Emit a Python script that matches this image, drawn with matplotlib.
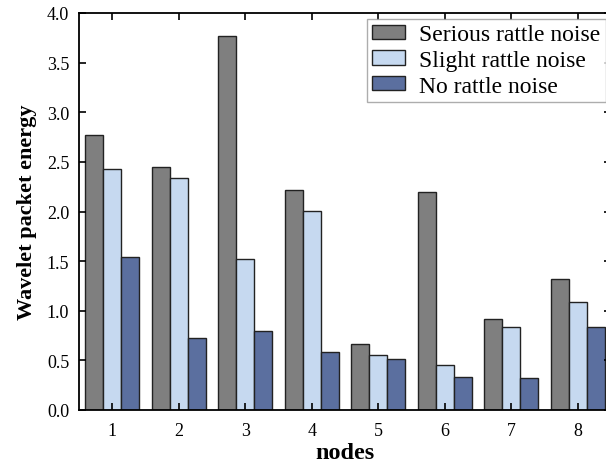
import numpy as np
import matplotlib
matplotlib.use('Agg')
import matplotlib.pyplot as plt

nodes = [1, 2, 3, 4, 5, 6, 7, 8]
serious = [2.77, 2.45, 3.77, 2.22, 0.66, 2.20, 0.92, 1.32]
slight = [2.43, 2.34, 1.52, 2.01, 0.55, 0.45, 0.84, 1.09]
no_rattle = [1.54, 0.73, 0.80, 0.58, 0.51, 0.33, 0.32, 0.84]

C_SER = '#7f7f7f'
C_SLI = '#c6d9f0'
C_NO = '#5b6f9f'
EDGE = '#222222'

plt.rcParams['font.family'] = ['Liberation Serif']

fig = plt.figure(figsize=(6.06, 4.64), dpi=100)
# right spine sits just past the image edge, as in the reference
ax = fig.add_axes([79 / 606, 53 / 464, 532 / 606, 397 / 464])

x = np.array(nodes)
w = 0.27
ax.bar(x - w, serious, width=w, color=C_SER, edgecolor=EDGE, lw=1.0, label='Serious rattle noise')
ax.bar(x, slight, width=w, color=C_SLI, edgecolor=EDGE, lw=1.0, label='Slight rattle noise')
ax.bar(x + w, no_rattle, width=w, color=C_NO, edgecolor=EDGE, lw=1.0, label='No rattle noise')

ax.set_xlim(0.5, 8.5)
ax.set_ylim(0, 4.0)
ax.set_xticks(nodes)
yt = np.arange(0, 4.01, 0.5)
ax.set_yticks(yt)
ax.set_yticklabels([f'{v:.1f}' for v in yt])
ax.tick_params(direction='in', length=5, width=1.2, labelsize=13,
               top=True, right=True)
ax.tick_params(axis='y', pad=7)
ax.tick_params(axis='x', pad=9)
for s in ax.spines.values():
    s.set_linewidth(1.3)

ax.set_xlabel('nodes', fontsize=17.5, fontweight='bold', labelpad=2)
ax.set_ylabel('Wavelet packet energy', fontsize=16, fontweight='bold', labelpad=7)

leg = ax.legend(loc='upper left', bbox_to_anchor=((367 - 79) / 532, (411 - 20) / 397),
                fontsize=17, frameon=True, fancybox=False, borderaxespad=0,
                handlelength=1.4, handleheight=0.55,
                labelspacing=0.2, borderpad=0.22, handletextpad=0.6)
leg.get_frame().set_edgecolor('#999999')
leg.get_frame().set_linewidth(1.0)

fig.savefig('out.png', dpi=100, facecolor='white')
